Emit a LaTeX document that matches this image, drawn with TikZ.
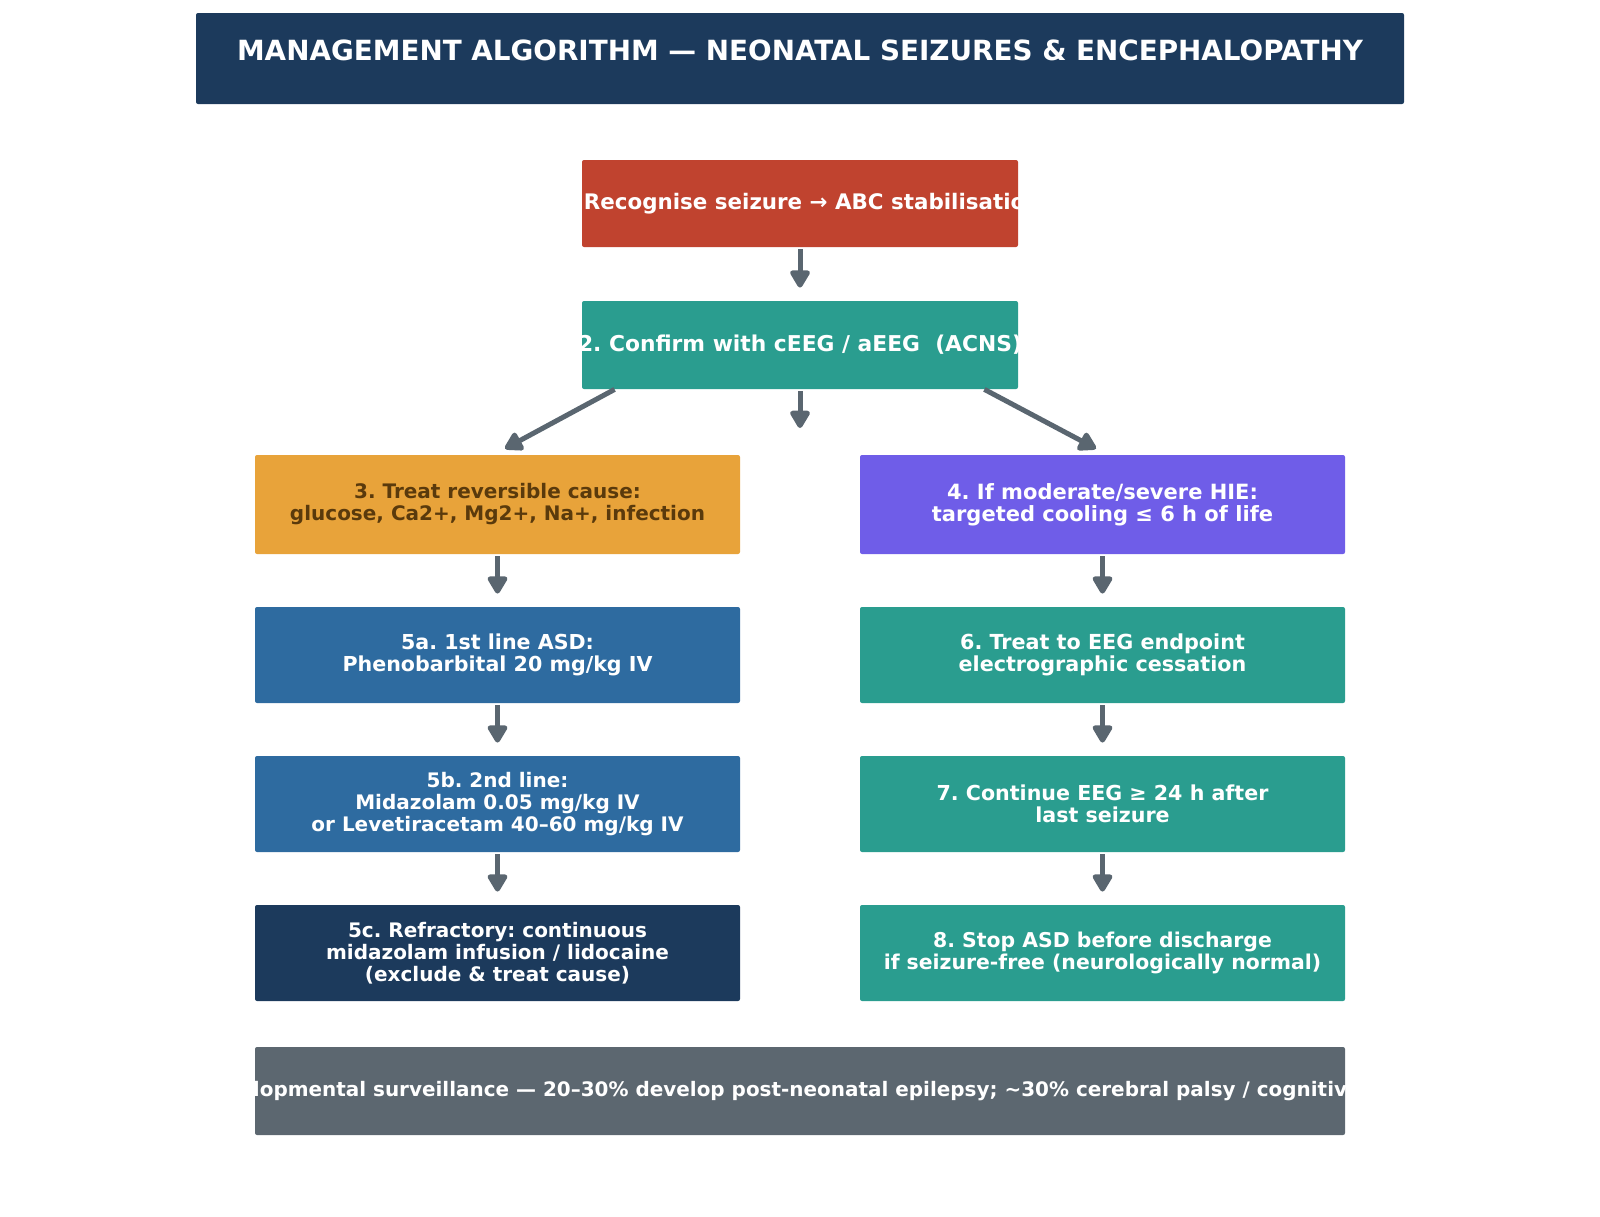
\documentclass[tikz,border=0pt]{standalone}
\usepackage{fontspec}
\setmainfont{DejaVu Sans}
\frenchspacing
\usetikzlibrary{arrows.meta}

\definecolor{navy}{HTML}{1C3A5C}
\definecolor{redbox}{HTML}{C0432F}
\definecolor{teal}{HTML}{2A9D8F}
\definecolor{amber}{HTML}{E8A33A}
\definecolor{brown}{HTML}{5A3A0C}
\definecolor{violet}{HTML}{6F5DE8}
\definecolor{steel}{HTML}{2E6BA0}
\definecolor{slate}{HTML}{5C6770}
\definecolor{arrowgray}{HTML}{5A6670}

\newcommand{\boxfont}[1]{\bfseries\fontsize{#1}{11}\selectfont}

\tikzset{
  box/.style={rectangle, rounded corners=1pt, inner sep=0pt, minimum width=242.5pt,
    minimum height=48pt, align=center, text=white, font=\boxfont{10}},
  arrow/.style={-{Triangle[length=10pt,width=11pt,round]}, line width=2.5pt, draw=arrowgray,
    shorten >=6.5pt, shorten <=1pt}
}

\begin{document}
\begin{tikzpicture}[x=0.5pt,y=-0.5pt]
    \useasboundingbox (0,0) rectangle (1600,1216);

    % Title bar
    \node[box, fill=navy, minimum width=604pt, minimum height=45.5pt] (title) at (800,58.5) {};
    \node[font=\bfseries\fontsize{13.9}{16}\selectfont, text=white] (titletext) at (800,50)
        {MANAGEMENT ALGORITHM — NEONATAL SEIZURES \& ENCEPHALOPATHY};

    % Steps 1 and 2 (text runs past the box edges)
    \node[box, fill=redbox, minimum width=218pt, minimum height=43.5pt] (one) at (800,203.5) {};
    \begin{scope}
        \clip (one.south west) rectangle (one.north east);
        \node[box, font=\boxfont{10.7}] (onetext) at ([xshift=-1.5pt]one.center) {1. Recognise seizure → ABC stabilisation};
    \end{scope}
    \node[box, fill=teal, minimum width=218pt, minimum height=44pt] (two) at (800,345) {};
    \begin{scope}
        \clip (two.south west) rectangle (two.north east);
        \node[box, font=\boxfont{10.9}] (twotext) at (two.center) {2. Confirm with cEEG / aEEG\ \ (ACNS)};
    \end{scope}

    % Left column
    \node[box, fill=amber, text=brown, minimum height=49.5pt] (three) at (497.5,504.5)
        {3. Treat reversible cause:\\glucose, Ca2+, Mg2+, Na+, infection};
    \node[box, fill=steel, font=\boxfont{10.3}] (fivea) at (497.5,655)
        {5a. 1st line ASD:\\Phenobarbital 20 mg/kg IV};
    \node[box, fill=steel] (fiveb) at (497.5,804)
        {5b. 2nd line:\\Midazolam 0.05 mg/kg IV\\or Levetiracetam 40–60 mg/kg IV};
    \node[box, fill=navy] (fivec) at (497.5,953)
        {5c. Refractory: continuous\\midazolam infusion / lidocaine\\(exclude \& treat cause)};

    % Right column
    \node[box, fill=violet, minimum height=49.5pt, font=\boxfont{10.5}] (four) at (1102.5,504.5)
        {4. If moderate/severe HIE:\\targeted cooling ≤ 6 h of life};
    \node[box, fill=teal, font=\boxfont{10.35}] (six) at (1102.5,655)
        {6. Treat to EEG endpoint\\electrographic cessation};
    \node[box, fill=teal, font=\boxfont{10.3}] (seven) at (1102.5,804)
        {7. Continue EEG ≥ 24 h after\\last seizure};
    \node[box, fill=teal, font=\boxfont{10.2}] (eight) at (1102.5,953)
        {8. Stop ASD before discharge\\if seizure-free (neurologically normal)};

    % Follow-up bar
    \node[box, fill=slate, minimum width=545pt, minimum height=44pt] (follow) at (800,1091) {};
    \begin{scope}
        \clip (follow.south west) rectangle (follow.north east);
        \node[box, font=\boxfont{9.98}] (followtext) at (follow.center)
            {lopmental surveillance — 20–30\% develop post-neonatal epilepsy; \textasciitilde30\% cerebral palsy / cognitiv};
    \end{scope}

    % Arrows
    \coordinate (split) at (800,428);
    \draw[arrow] (one) -- (two);
    \draw[arrow, shorten >=0pt, shorten <=0pt] ([xshift=16.5pt]two.south west) -- ([xshift=3.75pt,yshift=3pt]three.north);
    \draw[arrow, shorten >=0pt] (two) -- (split);
    \draw[arrow, shorten >=0pt, shorten <=0pt] ([xshift=-17pt]two.south east) -- ([xshift=-3.25pt,yshift=3pt]four.north);
    \draw[arrow] (three) -- (fivea);
    \draw[arrow] (fivea) -- (fiveb);
    \draw[arrow] (fiveb) -- (fivec);
    \draw[arrow] (four) -- (six);
    \draw[arrow] (six) -- (seven);
    \draw[arrow] (seven) -- (eight);
\end{tikzpicture}
\end{document}
